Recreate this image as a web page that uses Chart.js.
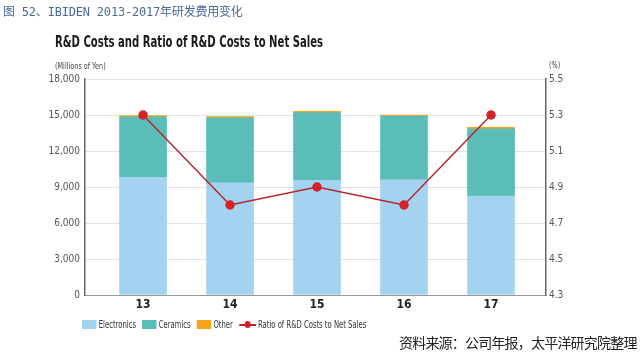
<!DOCTYPE html>
<html>
<head>
<meta charset="utf-8">
<script src="https://cdn.jsdelivr.net/npm/chart.js@4/dist/chart.umd.min.js"></script>
<style>
  body { margin: 0; background: #fff; }
  #wrap { position: relative; width: 640px; height: 352px; overflow: hidden; font-family: "DejaVu Sans Condensed", "DejaVu Sans", sans-serif; }
  #chart { position: absolute; left: 0; top: 0; }
  .t { position: absolute; white-space: nowrap; transform-origin: 0 0; }
  #head { left: 3px; top: 2px; font: 12px "DejaVu Sans Mono", "Noto Sans CJK SC", monospace; color: #4a6a98; letter-spacing: -0.2px; }
  #title { left: 55px; top: 32px; font-weight: bold; font-size: 16px; color: #1a1a1a; transform: scaleX(0.7); }
  #unitL { left: 55px; top: 61px; font-size: 9px; color: #444; transform: scaleX(0.8); }
  #unitR { left: 549px; top: 60px; font-size: 9px; color: #444; transform: scaleX(0.8); }
  #legend { left: 82px; top: 319px; font-size: 10px; color: #333; display: flex; align-items: center; transform: scaleX(0.76); }
  #legend .box { display: inline-block; width: 19px; height: 9px; margin-right: 3px; }
  #legend .item { display: flex; align-items: center; margin-right: 8px; }
  #legend .ln { position: relative; width: 22px; height: 9px; margin-right: 3px; }
  #legend .ln:before { content: ""; position: absolute; left: 0; right: 0; top: 4px; height: 1.5px; background: #b5262c; }
  #legend .ln:after { content: ""; position: absolute; left: 7px; top: 1px; width: 8px; height: 7px; border-radius: 50%; background: #d3232a; }
  #src { left: 399px; top: 332px; font: 14px "Noto Sans CJK SC", sans-serif; color: #222; letter-spacing: -0.8px; }
</style>
</head>
<body>
<div id="wrap">
  <canvas id="chart" width="640" height="352"></canvas>
  <div class="t" id="head">图 52、IBIDEN 2013-2017年研发费用变化</div>
  <div class="t" id="title">R&amp;D Costs and Ratio of R&amp;D Costs to Net Sales</div>
  <div class="t" id="unitL">(Millions of Yen)</div>
  <div class="t" id="unitR">(%)</div>
  <div class="t" id="legend">
    <span class="item"><span class="box" style="background:#a3d3f1"></span>Electronics</span>
    <span class="item"><span class="box" style="background:#5bbdb8"></span>Ceramics</span>
    <span class="item"><span class="box" style="background:#f5a31a"></span>Other</span>
    <span class="item"><span class="ln"></span>Ratio of R&amp;D Costs to Net Sales</span>
  </div>
  <div class="t" id="src">资料来源：公司年报，太平洋研究院整理</div>
</div>
<script>
// fiscal years (x axis)
const years = [13, 14, 15, 16, 17];
// R&D costs, millions of yen
const electronics = [9800, 9350, 9550, 9600, 8250];
const ceramics = [5050, 5420, 5650, 5300, 5600];
const other = [100, 100, 100, 100, 120];
// ratio of R&D costs to net sales (%)
const ratio = [5.3, 4.8, 4.9, 4.8, 5.3];
const leftTicks = [0, 3000, 6000, 9000, 12000, 15000, 18000];
const rightTicks = [4.3, 4.5, 4.7, 4.9, 5.1, 5.3, 5.5];

const pts = arr => arr.map((v, i) => ({ x: years[i], y: v }));
const tickFont = { family: "'DejaVu Sans Condensed', 'DejaVu Sans', sans-serif", size: 10 };

new Chart(document.getElementById("chart"), {
    data: {
        datasets: [
            {
                type: "line",
                label: "Ratio of R&D Costs to Net Sales",
                data: pts(ratio),
                yAxisID: "y1",
                borderColor: "#b5262c",
                borderWidth: 1.5,
                pointBackgroundColor: "#d3232a",
                pointBorderColor: "#d3232a",
                pointRadius: 4,
                tension: 0,
                order: 0
            },
            { type: "bar", label: "Electronics", data: pts(electronics), backgroundColor: "#a3d3f1", barThickness: 47, order: 1 },
            { type: "bar", label: "Ceramics", data: pts(ceramics), backgroundColor: "#5bbdb8", barThickness: 47, order: 1 },
            { type: "bar", label: "Other", data: pts(other), backgroundColor: "#f5a31a", barThickness: 47, order: 1 }
        ]
    },
    options: {
        responsive: false,
        animation: false,
        layout: { padding: { top: 79, left: 0, right: 0, bottom: 0 } },
        plugins: { legend: { display: false }, tooltip: { enabled: false } },
        scales: {
            x: {
                type: "linear",
                stacked: true,
                offset: false,
                min: 12.333,
                max: 17.632,
                afterBuildTicks: s => { s.ticks = years.map(v => ({ value: v })); },
                afterFit: s => { s.height = 57; },
                grid: { display: false, drawTicks: false },
                border: { color: "#999", width: 1 },
                ticks: { padding: 3, color: "#222", font: { family: "'DejaVu Sans Condensed', 'DejaVu Sans', sans-serif", size: 12, weight: "bold" } }
            },
            y: {
                stacked: true,
                position: "left",
                min: 0,
                max: 18000,
                afterBuildTicks: s => { s.ticks = leftTicks.map(v => ({ value: v })); },
                afterFit: s => { s.width = 85; },
                grid: { color: "#e2e2e2", drawTicks: false },
                border: { color: "#666", width: 1.5 },
                ticks: { padding: 5, color: "#555", font: tickFont, callback: v => v.toLocaleString("en-US") }
            },
            y1: {
                position: "right",
                min: 4.3,
                max: 5.5,
                afterBuildTicks: s => { s.ticks = rightTicks.map(v => ({ value: v })); },
                afterFit: s => { s.width = 94; },
                grid: { display: false, drawTicks: false },
                border: { color: "#666", width: 1.5 },
                ticks: { padding: 3, color: "#555", font: tickFont, callback: v => v.toFixed(1) }
            }
        }
    }
});
</script>
</body>
</html>
